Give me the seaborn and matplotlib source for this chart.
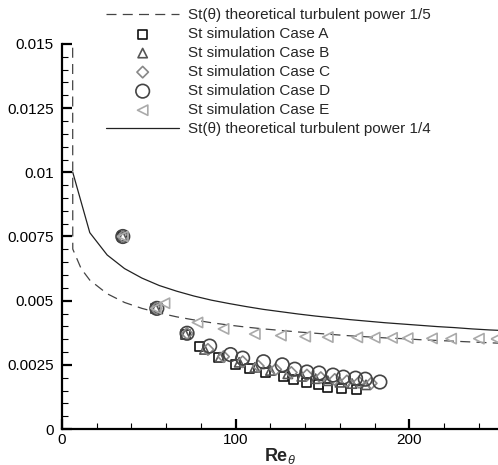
import matplotlib
matplotlib.use('Agg')
import matplotlib.pyplot as plt
from matplotlib.ticker import MultipleLocator, FuncFormatter
import seaborn as sns

# theoretical curves
re_p5 = [6.0, 6.2, 11, 16, 26, 36, 46, 56, 66, 76, 86, 96, 106, 116, 126, 136,
         146, 156, 166, 176, 186, 196, 206, 216, 226, 236, 246, 256]
st_p5 = [0.03, 0.00701, 0.00625, 0.00580, 0.00527, 0.00493, 0.00470, 0.00452,
         0.00437, 0.00425, 0.00414, 0.00405, 0.00397, 0.00390, 0.00384, 0.00378,
         0.00373, 0.00368, 0.00363, 0.00359, 0.00355, 0.00352, 0.00348, 0.00345,
         0.00342, 0.00339, 0.00336, 0.00333]

re_p4 = [6.2, 16, 26, 36, 46, 56, 66, 76, 86, 96, 106, 116, 126, 136, 146, 156,
         166, 176, 186, 196, 206, 216, 226, 236, 246, 256]
st_p4 = [0.0100, 0.00765, 0.00678, 0.00625, 0.00588, 0.00559, 0.00537, 0.00518,
         0.00502, 0.00489, 0.00477, 0.00466, 0.00457, 0.00448, 0.00440, 0.00433,
         0.00426, 0.00420, 0.00414, 0.00409, 0.00404, 0.00399, 0.00395, 0.00390,
         0.00386, 0.00383]

# simulation cases
re_a = [35, 54, 71, 79, 90, 100, 108, 117, 127.5, 133, 141, 147.6, 153, 161, 169.5]
st_a = [0.0075, 0.0047, 0.0037, 0.0032, 0.0028, 0.00253, 0.00237, 0.0022, 0.00206,
        0.00194, 0.00183, 0.00175, 0.00163, 0.00156, 0.00152]

re_b = [35, 54, 71, 82, 91, 102, 111, 120, 130, 138, 146, 153, 160, 167, 175]
st_b = [0.0075, 0.0047, 0.0037, 0.0031, 0.0028, 0.0026, 0.0024, 0.00228, 0.00215,
        0.00205, 0.00196, 0.00188, 0.00182, 0.00177, 0.00172]

re_c = [35, 54, 72, 84, 93, 104, 113, 123, 132, 141, 149, 157, 164, 171, 178]
st_c = [0.0075, 0.0047, 0.00372, 0.0031, 0.00282, 0.00262, 0.00245, 0.00232, 0.0022,
        0.0021, 0.002, 0.00193, 0.00187, 0.00182, 0.00178]

re_d = [35, 54.6, 72, 85, 97, 104, 116, 126.8, 134, 141, 148, 156, 162, 169, 174.6, 183]
st_d = [0.0075, 0.0047, 0.00373, 0.00323, 0.0029, 0.00276, 0.00262, 0.0025, 0.00233,
        0.00222, 0.00218, 0.0021, 0.00202, 0.00198, 0.00194, 0.00183]

re_e = [35, 54, 59, 78, 93, 111, 126, 140, 153, 170, 180, 190, 199, 213, 224, 240, 250]
st_e = [0.0075, 0.0047, 0.0049, 0.00415, 0.0039, 0.0037, 0.00364, 0.0036, 0.00358,
        0.00357, 0.00356, 0.00355, 0.00354, 0.00353, 0.00352, 0.00352, 0.00351]

sns.set_theme(style='ticks')
plt.rcParams['font.family'] = ['Liberation Sans', 'DejaVu Sans']
plt.rcParams['mathtext.fontset'] = 'custom'
plt.rcParams['mathtext.rm'] = 'Liberation Sans'
plt.rcParams['mathtext.it'] = 'Liberation Sans:italic'
plt.rcParams['mathtext.bf'] = 'Liberation Sans:bold'

fig = plt.figure(figsize=(4.98, 4.65), dpi=100)
ax = fig.add_axes([62 / 498, 36 / 465, 436 / 498, 385 / 465])

sns.lineplot(x=re_p5, y=st_p5, ax=ax, sort=False, color='#444444', linewidth=0.9,
             linestyle=(0, (8, 5)), label=u'St(\u03b8) theoretical turbulent power 1/5')

cases = [
    (re_a, st_a, 's', 42, '#111111', 'St simulation Case A'),
    (re_b, st_b, '^', 45, '#555555', 'St simulation Case B'),
    (re_c, st_c, 'D', 34, '#888888', 'St simulation Case C'),
    (re_d, st_d, 'o', 95, '#444444', 'St simulation Case D'),
    (re_e, st_e, '<', 55, '#aaaaaa', 'St simulation Case E'),
]
for xs, ys, mk, size, col, lab in cases:
    sns.scatterplot(x=xs, y=ys, ax=ax, marker=mk, s=size, facecolors='none',
                    edgecolor=col, linewidth=1.2, label=lab, zorder=3)

sns.lineplot(x=re_p4, y=st_p4, ax=ax, sort=False, color='#222222', linewidth=0.9,
             label=u'St(\u03b8) theoretical turbulent power 1/4')

ax.set_xlim(0, 251)
ax.set_ylim(0, 0.015)
ax.xaxis.set_major_locator(MultipleLocator(100))
ax.xaxis.set_minor_locator(MultipleLocator(20))
ax.yaxis.set_major_locator(MultipleLocator(0.0025))
ax.yaxis.set_minor_locator(MultipleLocator(0.0005))
ax.yaxis.set_major_formatter(FuncFormatter(lambda v, p: '%g' % round(v, 6)))
ax.xaxis.set_major_formatter(FuncFormatter(lambda v, p: '%g' % v))

for side in ['top', 'right']:
    ax.spines[side].set_visible(False)
for side in ['left', 'bottom']:
    ax.spines[side].set_linewidth(1.6)
    ax.spines[side].set_color('black')
ax.tick_params(which='major', direction='in', length=7, width=1.6, labelsize=11,
               colors='black')
ax.tick_params(axis='y', which='major', pad=6)
ax.tick_params(axis='x', which='major', pad=3)
ax.tick_params(which='minor', direction='in', length=4.5, width=0.8, colors='black')

ax.set_xlabel(r'$\mathbf{Re}_{\theta}$', fontsize=13, labelpad=-1)
ax.set_ylabel('')

handles, labels = ax.get_legend_handles_labels()
ax.legend_.remove()
fig.legend(handles, labels, loc='upper left', bbox_to_anchor=(106 / 498, 1 - 8 / 465),
           frameon=False, fontsize=11, handlelength=4.8, handletextpad=0.6,
           labelspacing=0.33, borderpad=0, borderaxespad=0, scatterpoints=1)

fig.savefig('out.png', dpi=100)
plt.close(fig)
